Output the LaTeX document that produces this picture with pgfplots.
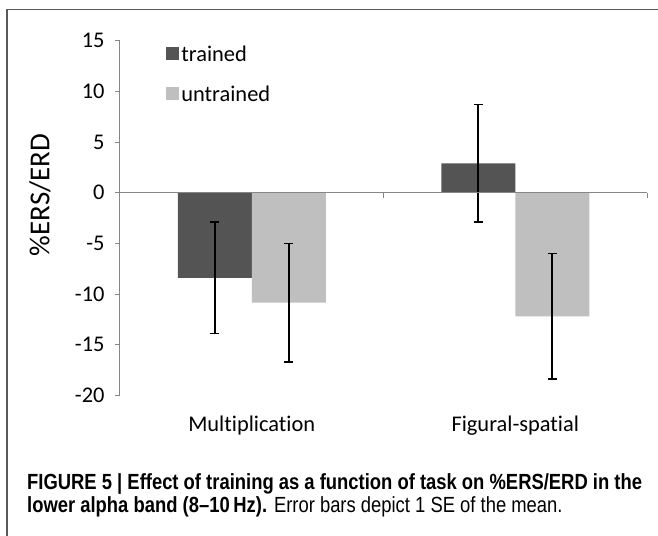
\documentclass[border=0pt]{standalone}
\usepackage{fontspec}
\setmainfont{Carlito}[Ligatures=NoCommon]
\newfontfamily\capfont[FakeStretch=0.84]{Liberation Sans}
\usepackage{pgfplots}
\pgfplotsset{compat=1.18}
\definecolor{dark}{HTML}{545454}
\definecolor{light}{HTML}{BFBFBF}
\definecolor{axgray}{HTML}{868686}
\definecolor{framec}{HTML}{5A5A5A}
\begin{document}
\begin{tikzpicture}[x=1bp,y=1bp]
\useasboundingbox (-120,-140.5) rectangle (538,395.5);
\draw[framec, line width=1.2bp] (-113,-141) -- (-113,386) -- (539,386);
\begin{axis}[
  at={(0,0)}, anchor=south west,
  scale only axis, width=527bp, height=354.8bp,
  ymin=-20, ymax=15, ytick={-20,-15,...,15},
  xmin=-0.5, xmax=1.5,
  xtick={0,1}, xticklabels={Multiplication,Figural-spatial},
  axis y line=left, axis x line=bottom,
  x axis line style={draw=none},
  y axis line style={axgray, line width=1bp, -},
  ytick style={axgray, line width=1bp},
  xtick style={draw=none},
  tick align=outside, major tick length=5bp,
  /pgf/number format/assume math mode=true,
  ticklabel style={font=\fontsize{22.5}{27}\selectfont},
  yticklabel style={xshift=-7bp},
  xticklabel style={yshift=-12bp},
  ylabel={\%ERS/ERD},
  ylabel style={font=\fontsize{29}{34}\selectfont, at={(axis description cs:-0.152,0.565)}, anchor=center},
  ybar=0pt, bar width=74bp,
  legend style={draw=none, fill=none, at={(axis description cs:0.082,0.998)}, anchor=north west,
    font=\fontsize{22.5}{27}\selectfont, row sep=19bp, nodes={inner sep=2bp}},
  legend image code/.code={\fill[#1] (0bp,-6bp) rectangle (13bp,7bp);},
  legend cell align=left,
  clip=false,
]
\addplot[fill=dark, draw=none,
  error bars/.cd, y dir=both, y explicit,
  error bar style={black, line width=1.6bp},
  error mark options={black, line width=1.6bp, mark size=4.5bp, rotate=90}]
  coordinates {(0,-8.4) +- (0,5.5) (1,2.9) +- (0,5.8)};
\addplot[fill=light, draw=none,
  error bars/.cd, y dir=both, y explicit,
  error bar style={black, line width=1.6bp},
  error mark options={black, line width=1.6bp, mark size=4.5bp, rotate=90}]
  coordinates {(0,-10.85) +- (0,5.85) (1,-12.2) +- (0,6.2)};
\legend{trained,untrained}
\draw[axgray, line width=1bp] (axis cs:-0.5,0) -- (axis cs:1.5,0);
\draw[axgray, line width=1bp] (axis cs:0.5,0) -- ++(0bp,-5bp);
\draw[axgray, line width=1bp] (axis cs:1.5,0) -- ++(0bp,-5bp);
\end{axis}
\node[anchor=base west, inner sep=0, font=\capfont\bfseries\fontsize{22}{26}\selectfont] at (-93,-94.5)
  {FIGURE 5 | Effect of training as a function of task on \%ERS/ERD in the};
\node[anchor=base west, inner sep=0, font=\capfont\fontsize{22}{26}\selectfont] at (-93,-117.5)
  {\textbf{lower alpha band (8–10\,Hz).} Error bars depict 1 SE of the mean.};
\end{tikzpicture}
\end{document}
